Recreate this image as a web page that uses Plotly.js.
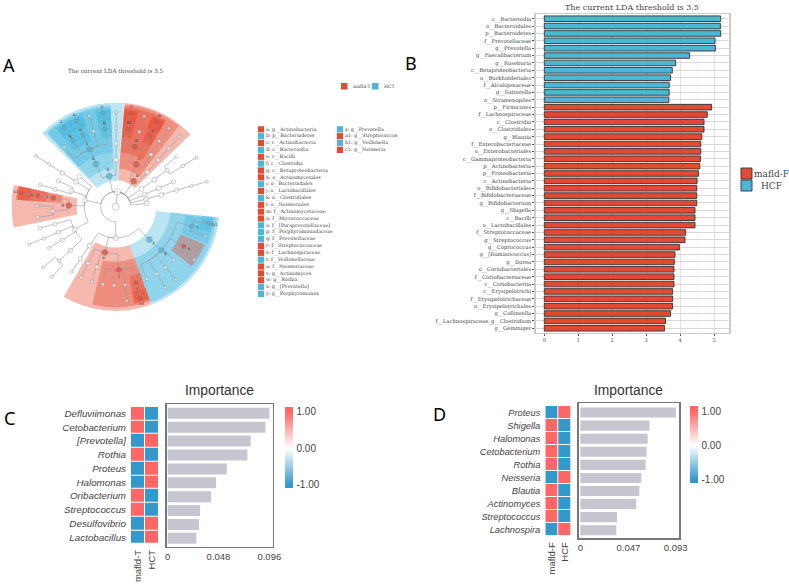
<!DOCTYPE html>
<html>
<head>
<meta charset="utf-8">
<script src="https://cdn.plot.ly/plotly-3.0.1.min.js"></script>
<style>html,body{margin:0;padding:0;background:#fff}#chart{width:789px;height:585px}</style>
</head>
<body>
<div id="chart"></div>
<script>
// ---------- Panel A: cladogram (ring level, angle in degrees, parent index, clade, letter)
const ringRadius = [0,45,94,141,189,236,284];
const nodeRing   = [0,1,2,3,4,5,5,5,5,5,6,6,6,6,3,4,5,6,2,3,4,5,5,5,6,6,6,4,5,6,3,4,5,6,2,3,4,5,5,6,2,3,4,2,3,4,5,6,2,2,3,3,4,5,6,3,4,4,5,3,4,5,6,4,5,5,3,4,5,4,5,6,4,5,4,5,6,6,2,3,4,5,3,4,5,4,5,4,5,5,5,6,5,6,3,4,5,5,6,5,6,5,5,6,5,6,6];
const nodeAngle  = [0,83,102,115,114.5,131,122.8,114.6,106.3,97.7,122.8,114.5,106.2,97.8,89.6,89.6,89.6,89.6,55,64,72.4,81,72.5,64.1,81,72.5,64.3,55.9,56.5,56,47.5,47.8,47.8,47.7,34.7,34.9,35.4,39.5,31.2,31.3,22.5,23.2,23.2,14,14.5,15.1,15.3,15.3,6,168,140,147.8,147.7,147.5,147.5,160.3,155.9,164,163.9,178.4,171.9,171.8,171.6,183.9,179.5,187.7,209,196,195.8,204,203.9,203.6,212,211.8,224,223.8,219.9,227.8,270,236.3,236,235.9,256.7,244,244,252.6,252.4,272.7,260.6,268.8,277,276.9,285,285,315.8,316.3,293.3,301.5,301.5,309.4,309.6,317.7,329.8,326,345.6,341.8,349.8];
const nodeParent = [-1,0,1,2,3,4,4,4,4,4,6,7,8,9,2,14,15,16,1,18,19,20,20,20,21,22,23,19,27,28,18,30,31,32,1,34,35,36,36,38,1,40,41,1,43,44,45,46,1,1,49,49,51,52,53,49,55,55,57,49,59,60,61,59,63,63,49,66,67,66,69,70,66,72,66,74,75,75,1,78,79,80,78,82,83,82,85,82,87,87,87,90,87,92,78,94,95,95,97,95,99,95,95,102,95,104,104];
const redNodes   = {18:'a',19:'c',20:'h',21:'m',23:'n',24:'v',26:'w',59:'g',60:'l',61:'u',62:'c1',82:'e',87:'j',92:'r',93:'a1',102:'s'};
const blueNodes  = {2:'b',3:'d',4:'i',6:'q',7:'o',9:'p',10:'z',11:'x',13:'y',94:'f',95:'k',104:'t',106:'b1'};

// shaded clade sectors: start angle, end angle, inner radius, outer radius
const redWedges = [
  [44,85,80,313],[52,85,115,308],[60,85,163,300],[77,85,210,295],[60,68,210,295],[77,85,258,290],[60,68,258,290],
  [168,191.5,117,313],[168,176,163,300],[168,176,210,296],[168,176,258,294],
  [240,290,122,313],[256.5,290,165,302],[281,290,212,296],[281,290,260,294],
  [322,337,212,290]
];
const blueWedges = [
  [85.5,135,78,313],[93,133,115,305],[93,133,163,300],[118,127,210,295],[110,119,210,295],[93,102,210,295],[118,127,258,290],[110,119,258,290],[93,102,258,290],
  [290,354,122,313],[290,354,165,305],[338,353,212,296],[345,354,260,294]
];

const cladeNames = ["a: p__Actinobacteria","b: p__Bacteroidetes","c: c__Actinobacteria","d: c__Bacteroidia","e: c__Bacilli","f: c__Clostridia","g: c__Betaproteobacteria","h: o__Actinomycetales","i: o__Bacteroidales","j: o__Lactobacillales","k: o__Clostridiales","l: o__Neisseriales","m: f__Actinomycetaceae","n: f__Micrococcaceae","o: f__[Paraprevotellaceae]","p: f__Porphyromonadaceae","q: f__Prevotellaceae","r: f__Streptococcaceae","s: f__Lachnospiraceae","t: f__Veillonellaceae","u: f__Neisseriaceae","v: g__Actinomyces","w: g__Rothia","x: g__[Prevotella]","y: g__Porphyromonas","z: g__Prevotella","a1: g__Streptococcus","b1: g__Veillonella","c1: g__Neisseria"];
const cladeGroup = ["r","b","r","b","r","b","r","r","b","r","b","r","r","r","b","b","b","r","r","b","r","r","r","b","b","b","r","b","r"];

// ---------- Panel B: LDA scores
const ldaNames = ["c__Bacteroidia","o__Bacteroidales","p__Bacteroidetes","f__Prevotellaceae","g__Prevotella","g__Faecalibacterium","g__Roseburia","c__Betaproteobacteria","o__Burkholderiales","f__Alcaligenaceae","g__Sutterella","o__Stramenopiles","p__Firmicutes","f__Lachnospiraceae","c__Clostridia","o__Clostridiales","g__Blautia","f__Enterobacteriaceae","o__Enterobacteriales","c__Gammaproteobacteria","p__Actinobacteria","p__Proteobacteria","c__Actinobacteria","o__Bifidobacteriales","f__Bifidobacteriaceae","g__Bifidobacterium","g__Shigella","c__Bacilli","o__Lactobacillales","f__Streptococcaceae","g__Streptococcus","g__Coprococcus","g__[Ruminococcus]","g__Dorea","o__Coriobacteriales","f__Coriobacteriaceae","c__Coriobacteriia","c__Erysipelotrichi","f__Erysipelotrichaceae","o__Erysipelotrichales","g__Collinsella","f__Lachnospiraceae_g__Clostridium","g__Gemmiger"];
const ldaValues = [5.196,5.187,5.196,5.03,5.04,4.28,3.87,3.77,3.72,3.68,3.68,3.67,4.93,4.80,4.705,4.705,4.64,4.61,4.61,4.60,4.58,4.54,4.50,4.49,4.49,4.49,4.44,4.44,4.44,4.165,4.145,3.98,3.85,3.83,3.82,3.82,3.82,3.78,3.78,3.78,3.72,3.57,3.54];
const ldaHcfCount = 12;

// ---------- Panel C
const cGenera = ["Defluviimonas","Cetobacterium","[Prevotella]","Rothia","Proteus","Halomonas","Oribacterium","Streptococcus","Desulfovibrio","Lactobacillus"];
const cImportance = [0.0961,0.0923,0.0784,0.0753,0.0558,0.0457,0.041,0.0306,0.0296,0.0271];
const cGroups = ["mafld-T","HCT"];
const cMafld = [1,1,-1,1,-1,-1,1,1,-1,-1];
const cHct   = [-1,-1,1,-1,1,1,-1,-1,1,1];

// ---------- Panel D
const dGenera = ["Proteus","Shigella","Halomonas","Cetobacterium","Rothia","Neisseria","Blautia","Actinomyces","Streptococcus","Lachnospira"];
const dImportance = [0.0933,0.0676,0.0657,0.0647,0.0637,0.0595,0.0576,0.0546,0.0358,0.0351];
const dGroups = ["mafld-F","HCF"];
const dMafld = [-1,1,1,1,1,-1,1,1,1,-1];
const dHcf   = [1,-1,-1,-1,-1,1,-1,-1,-1,1];

// ---------- styling and helpers
const W = 789, H = 585;
const RED = '#e34a33', BLUE = '#4db6d3', HEATRED = '#ff6666', HEATBLUE = '#3399cc', BARGREY = '#c6c6d0';
const SERIF = '"DejaVu Serif", serif', SANS = '"Liberation Sans", Arial, sans-serif';
const dx = (l,r) => [l/W, r/W];
const dy = (t,b) => [1-b/H, 1-t/H];

const traces = [];

// sectors
function sectorTrace(list, color){
  return {type:'barpolar', subplot:'polar', hoverinfo:'skip', showlegend:false,
    theta:list.map(w=>(w[0]+w[1])/2), width:list.map(w=>w[1]-w[0]),
    base:list.map(w=>w[2]), r:list.map(w=>w[3]-w[2]),
    marker:{color:color, line:{width:0}}};
}
traces.push(sectorTrace(blueWedges,'rgba(64,180,222,0.35)'));
traces.push(sectorTrace(redWedges,'rgba(228,70,48,0.38)'));

// tree edges: radial run to the parent's ring, then an arc to the parent
const edgeR = [], edgeT = [];
nodeParent.forEach((p,i)=>{
  if(p<0) return;
  const rp = ringRadius[nodeRing[p]];
  edgeR.push(ringRadius[nodeRing[i]]); edgeT.push(nodeAngle[i]);
  const steps = Math.max(2, Math.ceil(Math.abs(nodeAngle[i]-nodeAngle[p])/3));
  if(nodeRing[p]===0){ edgeR.push(0); edgeT.push(0); }
  else for(let s=0;s<=steps;s++){
    edgeR.push(rp); edgeT.push(nodeAngle[i]+(nodeAngle[p]-nodeAngle[i])*s/steps);
  }
  edgeR.push(null); edgeT.push(null);
});
traces.push({type:'scatterpolar', subplot:'polar', mode:'lines', r:edgeR, theta:edgeT,
  line:{color:'#999999', width:0.6}, hoverinfo:'skip', showlegend:false, connectgaps:false});

// tree nodes
const ringSize = [7,6.5,5,5,4.2,3.4,3];
traces.push({type:'scatterpolar', subplot:'polar', mode:'markers',
  r:nodeRing.map(k=>ringRadius[k]), theta:nodeAngle,
  marker:{
    color:nodeRing.map((k,i)=>redNodes[i]?RED:blueNodes[i]?BLUE:'#ffffff'),
    size:nodeRing.map((k,i)=>ringSize[k]+((redNodes[i]||blueNodes[i])?1:0)),
    line:{color:'#777777', width:0.5}},
  hoverinfo:'skip', showlegend:false});

// node letters
const letterIdx = Object.keys(redNodes).concat(Object.keys(blueNodes)).map(Number);
traces.push({type:'scatterpolar', subplot:'polar', mode:'text',
  r:letterIdx.map(i=>ringRadius[nodeRing[i]]+18), theta:letterIdx.map(i=>nodeAngle[i]),
  text:letterIdx.map(i=>redNodes[i]||blueNodes[i]),
  textfont:{family:SERIF, size:4.5, color:'#333'}, hoverinfo:'skip', showlegend:false});

// clade key
traces.push({type:'scatter', xaxis:'x6', yaxis:'y6', mode:'markers+text', cliponaxis:false,
  x:cladeNames.map((_,i)=>i<25?0:1), y:cladeNames.map((_,i)=>i<25?i:i-25),
  text:cladeNames, textposition:'middle right',
  textfont:{family:SERIF, size:4.9, color:'#444'},
  marker:{symbol:'square', size:6.2, color:cladeGroup.map(g=>g==='r'?RED:BLUE)},
  hoverinfo:'skip', showlegend:false});

// Panel B bars
traces.push({type:'bar', orientation:'h', xaxis:'x', yaxis:'y', y:ldaNames, x:ldaValues, width:0.76,
  marker:{color:ldaValues.map((_,i)=>i<ldaHcfCount?BLUE:RED), line:{color:'#333333', width:0.9}},
  hoverinfo:'skip', showlegend:false});

// Panel C / D heat strips and importance bars
function scale(zmin,zmax){
  const n = z => (z-zmin)/(zmax-zmin);
  return [[0,HEATBLUE],[n(-1),HEATBLUE],[n(0),'#ffffff'],[n(1),HEATRED],[1,HEATRED]];
}
function heat(groups, names, a, b, xa, ya, zmin, zmax, barX, barTop, barLen){
  return {type:'heatmap', xaxis:xa, yaxis:ya, x:groups, y:names, z:names.map((_,i)=>[a[i],b[i]]),
    zmin, zmax, colorscale:scale(zmin,zmax), xgap:1, ygap:1, hoverinfo:'skip',
    colorbar:{x:barX/W, xanchor:'left', xpad:0, ypad:0, y:1-barTop/H, yanchor:'top',
      len:barLen, lenmode:'pixels', thickness:8, thicknessmode:'pixels', outlinewidth:0,
      tickvals:[1,0,-1], ticktext:['1.00','0.00','-1.00'], ticks:'outside', ticklen:2, tickcolor:'rgba(0,0,0,0)',
      tickfont:{family:SANS, size:10, color:'#444'}}};
}
traces.push(heat(cGroups,cGenera,cMafld,cHct,'x2','y2',-1.09,1.14,284.7,406.7,81));
traces.push({type:'bar', orientation:'h', xaxis:'x3', yaxis:'y3', y:cGenera, x:cImportance, width:0.79,
  marker:{color:BARGREY, line:{width:0}}, hoverinfo:'skip', showlegend:false});
traces.push(heat(dGroups,dGenera,dMafld,dHcf,'x4','y4',-1.10,1.146,690.3,406,76.7));
traces.push({type:'bar', orientation:'h', xaxis:'x5', yaxis:'y5', y:dGenera, x:dImportance, width:0.77,
  marker:{color:BARGREY, line:{width:0}}, hoverinfo:'skip', showlegend:false});

// annotations
const note = (text,x,y,size,family,color,anchor) => ({text, x:x/W, y:1-y/H, xref:'paper', yref:'paper',
  showarrow:false, xanchor:anchor||'center', yanchor:'middle', font:{size,family,color}});
const PANEL = '"Noto Sans", sans-serif';
const annotations = [
  note('A',9,65,18,PANEL,'#000'), note('B',411,63,18,PANEL,'#000'),
  note('C',9,418,18,PANEL,'#000'), note('D',440,414,18,PANEL,'#000'),
  note('The current LDA threshold is 3.5',116,71,5.7,SERIF,'#444'),
  note('mafld-T',351,86,4.6,SERIF,'#444','left'), note('HCT',382,86,4.6,SERIF,'#444','left'),
  note('The current LDA threshold is 3.5',632,8,8,SERIF,'#444'),
  note('mafld-F',771.5,174,9,SERIF,'#444'), note('HCF',771.5,186,9,SERIF,'#444'),
  note('Importance',219,390,13.8,SANS,'#333'), note('Importance',628.7,390,13.8,SANS,'#333')
];
const swatch = (l,t,size,color,line) => ({type:'rect', xref:'paper', yref:'paper',
  x0:l/W, x1:(l+size)/W, y0:1-(t+size)/H, y1:1-t/H, fillcolor:color, line:line||{width:0}});
const shapes = [
  swatch(341,83,6.5,RED), swatch(372,83,6.5,BLUE),
  swatch(741,168,11,RED,{color:'#333',width:0.9}), swatch(741,180,11,BLUE,{color:'#333',width:0.9})
];

const hidden = {visible:false, fixedrange:true};
const heatX = {tickangle:-90, ticks:'', showgrid:false, zeroline:false, showline:false, ticklabelstandoff:3,
  tickfont:{family:SANS, size:9.5, color:'#444'}};
const heatY = (names,size) => ({type:'category', range:[9.5,-0.5], tickmode:'array', tickvals:names, ticktext:names,
  ticks:'', showgrid:false, zeroline:false, showline:false, ticklabelstandoff:4,
  tickfont:{family:SANS, size:size, color:'#444', style:'italic'}});
const barX = (range,tickvals,ticktext) => ({range, tickmode:'array', tickvals, ticktext, ticks:'', showgrid:false,
  zeroline:false, showline:true, mirror:true, linecolor:'#777', linewidth:1.5,
  tickfont:{family:SANS, size:9.5, color:'#444'}});
const barY = (range) => ({type:'category', range, showticklabels:false, ticks:'', showgrid:false, zeroline:false,
  showline:true, mirror:true, linecolor:'#777', linewidth:1.5});

const layout = {
  width:W, height:H, margin:{l:0,r:0,t:0,b:0,autoexpand:false}, paper_bgcolor:'#fff', plot_bgcolor:'rgba(0,0,0,0)',
  showlegend:false, annotations, shapes,
  polar:{domain:{x:dx(11.4,220), y:dy(102.4,311)}, bgcolor:'rgba(0,0,0,0)', barmode:'overlay',
    radialaxis:{visible:false, range:[0,313]},
    angularaxis:{visible:false, direction:'counterclockwise', rotation:0}},
  // Panel B
  xaxis:{domain:dx(535.7,729.3), range:[-0.253,5.45], tickvals:[0,1,2,3,4,5], ticks:'outside', ticklen:2, tickcolor:'#555',
    tickfont:{family:SERIF, size:5, color:'#444'}, showgrid:true, gridcolor:'#e2e2e2', gridwidth:1,
    minor:{dtick:0.5, showgrid:true, gridcolor:'#efefef', gridwidth:0.6}, zeroline:false,
    showline:true, mirror:true, linecolor:'#cccccc', linewidth:1.4},
  yaxis:{domain:dy(14.3,332.7), type:'category', range:[42.6,-0.6], tickmode:'array', tickvals:ldaNames, ticktext:ldaNames,
    ticks:'outside', ticklen:2, tickcolor:'#555', tickfont:{family:SERIF, size:5.3, color:'#444'},
    showgrid:true, gridcolor:'#d8d8d8', gridwidth:1, zeroline:false,
    showline:true, mirror:true, linecolor:'#cccccc', linewidth:1.4},
  // Panel C
  xaxis2:Object.assign({domain:dx(131,158.7), anchor:'y2'},heatX),
  yaxis2:Object.assign({domain:dy(406.7,544), anchor:'x2'},heatY(cGenera,9.8)),
  xaxis3:Object.assign({domain:dx(166.7,272.7), anchor:'y3'},barX([-0.00095,0.0992],[0,0.048,0.096],['0','0.048','0.096'])),
  yaxis3:Object.assign({domain:dy(404,546.7), anchor:'x3'},barY([9.6,-0.67])),
  // Panel D
  xaxis4:Object.assign({domain:dx(545.3,571.3), anchor:'y4'},heatX),
  yaxis4:Object.assign({domain:dy(406,536.3), anchor:'x4'},heatY(dGenera,9.3)),
  xaxis5:Object.assign({domain:dx(578.7,679.3), anchor:'y5'},barX([-0.00156,0.0966],[0,0.047,0.093],['0','0.047','0.093'])),
  yaxis5:Object.assign({domain:dy(403.3,538.3), anchor:'x5'},barY([9.62,-0.71])),
  // clade key
  xaxis6:Object.assign({domain:dx(255,425), range:[-0.076,2.076], anchor:'y6'},hidden),
  yaxis6:Object.assign({domain:dy(125,300), range:[24.88,-0.63], anchor:'x6'},hidden)
};

Plotly.newPlot('chart', traces, layout, {staticPlot:true, displayModeBar:false});
</script>
</body>
</html>
